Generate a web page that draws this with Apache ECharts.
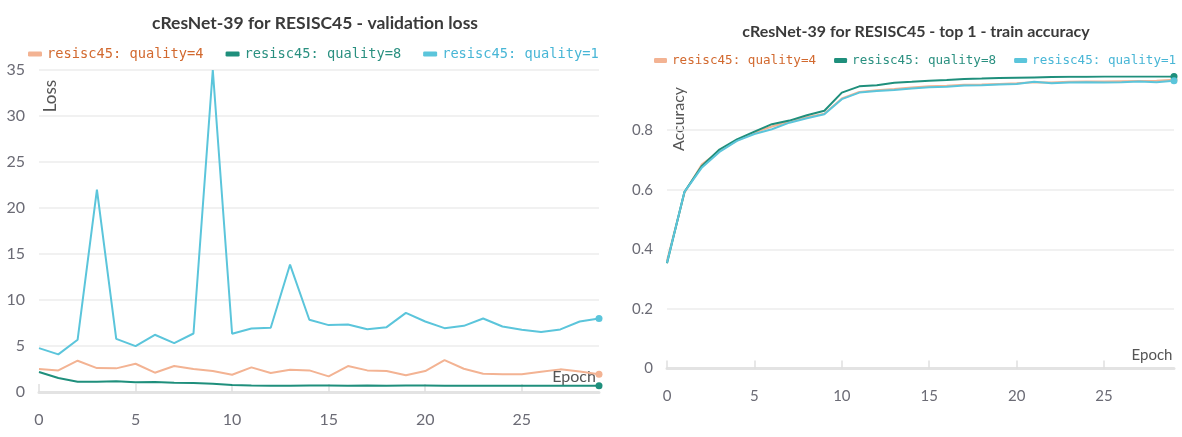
<!DOCTYPE html>
<html>
<head>
<meta charset="utf-8">
<script src="https://cdn.jsdelivr.net/npm/echarts@6/dist/echarts.min.js"></script>
<style>
  html, body { margin: 0; padding: 0; background: #fff; }
  #chart { width: 1182px; height: 437px; }
</style>
</head>
<body>
<div id="chart"></div>
<script>
// data
const epochs = [0, 1, 2, 3, 4, 5, 6, 7, 8, 9, 10, 11, 12, 13, 14, 15, 16, 17, 18, 19, 20, 21, 22, 23, 24, 25, 26, 27, 28, 29];
const seriesNames = ['resisc45: quality=4', 'resisc45: quality=8', 'resisc45: quality=1'];

const lossQ4 = [2.49, 2.35, 3.4, 2.6, 2.57, 3.07, 2.1, 2.82, 2.49, 2.28, 1.88, 2.68, 2.06, 2.42, 2.35, 1.7, 2.82, 2.35, 2.28, 1.81, 2.28, 3.47, 2.53, 1.99, 1.92, 1.92, 2.2, 2.46, 2.24, 1.92];
const lossQ8 = [2.17, 1.52, 1.12, 1.12, 1.16, 1.05, 1.08, 1.01, 0.98, 0.9, 0.76, 0.72, 0.69, 0.69, 0.72, 0.7, 0.68, 0.7, 0.68, 0.7, 0.7, 0.68, 0.69, 0.69, 0.68, 0.68, 0.68, 0.69, 0.69, 0.69];
const lossQ1 = [4.77, 4.09, 5.68, 22.0, 5.78, 4.99, 6.22, 5.31, 6.36, 35.0, 6.33, 6.9, 6.98, 13.85, 7.85, 7.27, 7.34, 6.83, 7.05, 8.6, 7.66, 6.94, 7.19, 7.99, 7.12, 6.76, 6.51, 6.8, 7.66, 7.99];

const accQ4 = [0.362, 0.59, 0.685, 0.73, 0.765, 0.792, 0.812, 0.828, 0.843, 0.855, 0.906, 0.928, 0.934, 0.938, 0.943, 0.947, 0.949, 0.952, 0.953, 0.955, 0.957, 0.961, 0.96, 0.962, 0.963, 0.963, 0.964, 0.965, 0.966, 0.969];
const accQ8 = [0.353, 0.593, 0.68, 0.735, 0.769, 0.795, 0.82, 0.832, 0.85, 0.865, 0.926, 0.947, 0.951, 0.959, 0.962, 0.966, 0.968, 0.972, 0.973, 0.975, 0.976, 0.977, 0.978, 0.979, 0.979, 0.98, 0.98, 0.98, 0.98, 0.98];
const accQ1 = [0.355, 0.593, 0.675, 0.727, 0.764, 0.787, 0.803, 0.825, 0.84, 0.853, 0.904, 0.926, 0.931, 0.935, 0.94, 0.944, 0.946, 0.95, 0.951, 0.953, 0.955, 0.962, 0.957, 0.96, 0.961, 0.96, 0.961, 0.963, 0.961, 0.966];

const lineColors = ['#f3b393', '#1f8f7c', '#5bc5db'];
const textColors = ['#d2692f', '#2a9080', '#48b6d6'];
const labelColor = '#6b6b75';
const gridColor = '#ececec';
const sansFont = "Lato, sans-serif";
const monoFont = "'DejaVu Sans Mono', monospace";

const myChart = echarts.init(document.getElementById('chart'));

function lastDot(val, params) {
    return params.dataIndex === epochs.length - 1 ? 7 : 0;
}

function makeLine(idx, values, axisIndex) {
    return {
        name: seriesNames[idx],
        type: 'line',
        xAxisIndex: axisIndex,
        yAxisIndex: axisIndex,
        data: values,
        symbol: 'circle',
        showAllSymbol: true,
        symbolSize: lastDot,
        itemStyle: { color: lineColors[idx] },
        lineStyle: { width: 2, color: lineColors[idx] },
        emphasis: { disabled: true },
        animation: false,
    };
}

function makeLegend(left, top, fontSize, gap, iconW) {
    return {
        left: left,
        top: top,
        itemWidth: iconW,
        itemHeight: 5,
        itemGap: gap,
        icon: 'roundRect',
        selectedMode: false,
        data: seriesNames.map((n, i) => ({
            name: n,
            textStyle: { color: textColors[i], fontFamily: monoFont, fontSize: fontSize },
        })),
    };
}

function makeX(gridIndex, fontSize) {
    return {
        type: 'category',
        gridIndex: gridIndex,
        data: epochs,
        boundaryGap: false,
        axisLine: { lineStyle: { color: '#e3e3e3', width: 3 } },
        axisTick: { inside: true, length: 8, interval: 4, lineStyle: { color: '#e0e0e0', width: 1.5 } },
        axisLabel: { interval: 4, margin: 20, color: labelColor, fontFamily: sansFont, fontSize: fontSize },
        splitLine: { show: false },
    };
}

function makeY(gridIndex, max, interval, fontSize, showMaxLine) {
    return {
        type: 'value',
        gridIndex: gridIndex,
        min: 0,
        max: max,
        interval: interval,
        axisLine: { show: false },
        axisTick: { show: false },
        axisLabel: { margin: 14, showMaxLabel: showMaxLine, color: labelColor, fontFamily: sansFont, fontSize: fontSize },
        splitLine: { showMaxLine: showMaxLine, lineStyle: { color: gridColor, width: 1.5 } },
    };
}

const option = {
    backgroundColor: '#fff',
    title: [
        {
            text: 'cResNet-39 for RESISC45 - validation loss',
            left: 310, top: 9, textAlign: 'center',
            textStyle: { color: '#3a3a3a', fontFamily: sansFont, fontWeight: 'bold', fontSize: 17.5 },
        },
        {
            text: 'cResNet-39 for RESISC45 - top 1 - train accuracy',
            left: 911, top: 19, textAlign: 'center',
            textStyle: { color: '#3a3a3a', fontFamily: sansFont, fontWeight: 'bold', fontSize: 16 },
        },
    ],
    legend: [
        makeLegend(23, 42, 13.7, 22, 14),
        makeLegend(649, 49, 12.6, 18, 13),
    ],
    grid: [
        { left: 39, top: 70, width: 560, height: 322 },
        { left: 667, top: 76.5, width: 507, height: 292 },
    ],
    xAxis: [makeX(0, 16), makeX(1, 15)],
    yAxis: [makeY(0, 35, 5, 16, true), makeY(1, 0.98, 0.2, 15, false)],
    graphic: [
        { type: 'text', x: 51, y: 96, rotation: Math.PI / 2,
          style: { text: 'Loss', fill: '#555', font: '17px ' + sansFont, align: 'center', verticalAlign: 'middle' } },
        { type: 'text', x: 679, y: 119, rotation: Math.PI / 2,
          style: { text: 'Accuracy', fill: '#555', font: '16px ' + sansFont, align: 'center', verticalAlign: 'middle' } },
        { type: 'text', x: 574, y: 377,
          style: { text: 'Epoch', fill: '#555', font: '16px ' + sansFont, align: 'center', verticalAlign: 'middle' } },
        { type: 'text', x: 1152, y: 355,
          style: { text: 'Epoch', fill: '#555', font: '15px ' + sansFont, align: 'center', verticalAlign: 'middle' } },
    ],
    series: [
        makeLine(0, lossQ4, 0),
        makeLine(1, lossQ8, 0),
        makeLine(2, lossQ1, 0),
        makeLine(0, accQ4, 1),
        makeLine(1, accQ8, 1),
        makeLine(2, accQ1, 1),
    ],
};

myChart.setOption(option);
</script>
</body>
</html>
